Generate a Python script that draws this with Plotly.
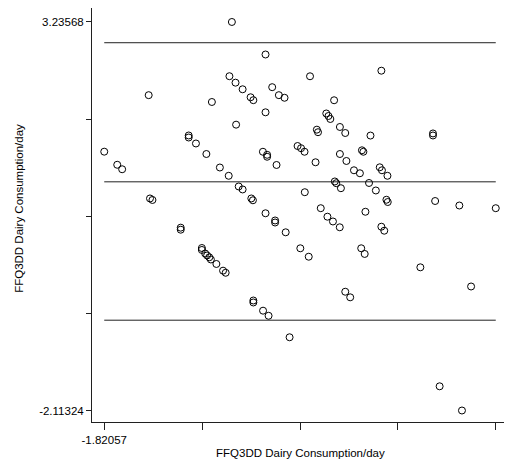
import plotly.graph_objects as go

# Mean of the two measures (x) and their difference (y)
x_vals = [
    -0.940, -0.708, 0.091, -0.957, -0.915, -0.866, -0.811, -0.792, -1.514, -1.078,
    -0.662, -0.616, -0.577, -0.401, -0.235, -0.708, -0.911, -0.289, -0.274, -0.261,
    -0.354, -0.346, -0.195, -0.158, 0.016, 0.447, 0.447, -1.238, -1.238, -1.188,
    -1.116, -1.82057, -1.731, -1.697, -1.023, -0.962, -0.726, -0.697, -0.697, -0.632,
    -0.487, -0.463, -0.439, -0.363, -0.195, -0.150, -0.098, -0.057, -0.043, -0.033,
    0.080, 0.095, 0.133, -0.893, -0.866, -0.806, -0.795, -1.505, -1.488, -0.437,
    -0.230, -0.220, -0.188, 0.006, 0.053, 0.126, 0.135, 0.462, 0.629, 0.880173,
    -0.708, -0.642, -0.642, -0.569, -0.327, -0.281, -0.243, -0.196, -0.019, 0.091,
    0.111, -1.293, -1.293, -1.147, -1.147, -1.124, -1.111, -1.096, -1.085, -1.047,
    -1.001, -0.983, -0.468, -0.410, -0.048, -0.024, 0.360, 0.710, -0.792, -0.792,
    -0.725, -0.687, -0.542, -0.158, -0.124, 0.493, 0.647,
]
y_vals = [
    3.23568, 2.788, 2.565, 2.489, 2.400, 2.309, 2.199, 2.159, 2.228, 2.134,
    2.338, 2.228, 2.192, 2.488, 2.158, 1.992, 1.822, 1.976, 1.941, 1.900,
    1.753, 1.718, 1.790, 1.707, 1.672, 1.701, 1.673, 1.673, 1.645, 1.563,
    1.418, 1.450, 1.270, 1.208, 1.232, 1.118, 1.449, 1.407, 1.380, 1.267,
    1.528, 1.498, 1.449, 1.304, 1.418, 1.322, 1.194, 1.153, 1.469, 1.449,
    1.235, 1.194, 1.118, 0.971, 0.930, 0.806, 0.781, 0.806, 0.785, 0.892,
    1.040, 1.016, 0.947, 1.019, 0.916, 0.788, 0.757, 0.771, 0.709, 0.672,
    0.602, 0.503, 0.475, 0.340, 0.672, 0.555, 0.489, 0.409, 0.623, 0.417,
    0.362, 0.404, 0.376, 0.124, 0.097, 0.048, 0.021, -0.004, -0.034, -0.096,
    -0.188, -0.217, 0.120, 0.004, 0.120, 0.042, -0.142, -0.406, -0.599, -0.626,
    -0.739, -0.809, -1.105, -0.478, -0.555, -1.780, -2.11324,
]

# Mean difference and limits of agreement
mean_diff = 1.035
upper_loa = 2.950
lower_loa = -0.870

x_ticks = [-1.82057, -1.145384, -0.470198, 0.204987, 0.880173]
x_tick_labels = ["-1.82057", "", "", "", ".880173"]
y_ticks = [-2.11324, -0.77601, 0.56122, 1.89845, 3.23568]
y_tick_labels = ["-2.11324", "", "", "", "3.23568"]

x_title = "FFQ3DD Dairy Consumption/day"
y_title = "FFQ3DD Dairy Consumption/day"

FONT = "Liberation Sans, Arial, sans-serif"

fig = go.Figure()

x_lo, x_hi = min(x_vals), max(x_vals)
for level in (upper_loa, mean_diff, lower_loa):
    fig.add_trace(go.Scatter(
        x=[x_lo, x_hi], y=[level, level], mode="lines",
        line=dict(color="#202020", width=1), hoverinfo="skip", showlegend=False,
    ))

fig.add_trace(go.Scatter(
    x=x_vals, y=y_vals, mode="markers",
    marker=dict(symbol="circle-open", size=7, color="black", line=dict(width=1, color="black")),
    showlegend=False,
))

fig.update_layout(
    width=512, height=468,
    margin=dict(l=92, r=8, t=8, b=46),
    paper_bgcolor="white", plot_bgcolor="white",
    font=dict(family=FONT, size=11.5, color="black"),
    xaxis=dict(
        range=[-1.905, 0.937], showgrid=False, zeroline=False,
        showline=True, linecolor="#202020", linewidth=1,
        ticks="outside", ticklen=7, tickcolor="#202020",
        tickvals=x_ticks, ticktext=x_tick_labels,
        tickfont=dict(family=FONT, size=11.5, color="black"),
    ),
    yaxis=dict(
        range=[-2.2715, 3.428], showgrid=False, zeroline=False,
        showline=True, linecolor="#202020", linewidth=1,
        ticks="outside", ticklen=5, tickcolor="#202020",
        tickvals=y_ticks, ticktext=y_tick_labels,
        tickfont=dict(family=FONT, size=11.5, color="black"),
    ),
    annotations=[
        dict(text=x_title, xref="paper", yref="paper", x=0.505, y=-0.075,
             xanchor="center", yanchor="middle", showarrow=False,
             font=dict(family=FONT, size=11.5, color="black")),
        dict(text=y_title, xref="paper", yref="paper", x=-0.177, y=0.515,
             xanchor="center", yanchor="middle", showarrow=False, textangle=-90,
             font=dict(family=FONT, size=11.5, color="black")),
    ],
)

fig.write_html(
    "out.html",
    config={"displayModeBar": False},
    post_script="document.body.style.margin='0';document.body.style.overflow='hidden';",
)
